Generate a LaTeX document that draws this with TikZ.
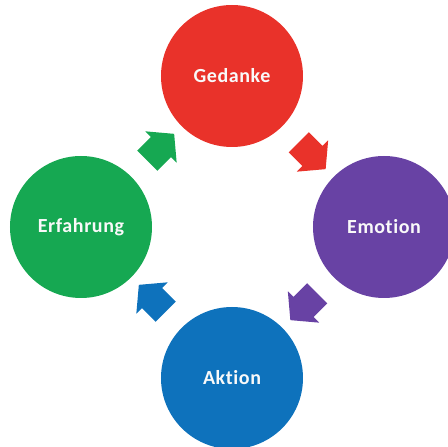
\documentclass[tikz,border=0pt]{standalone}
\usepackage{fontspec}
\setsansfont{Carlito}[Ligatures=NoCommon, LetterSpace=3]
\usetikzlibrary{positioning}
\usetikzlibrary{shapes.arrows}
\usetikzlibrary{calc}
\definecolor{gedankered}{RGB}{233,50,42}
\definecolor{emotionlila}{RGB}{104,66,164}
\definecolor{aktionblau}{RGB}{14,114,188}
\definecolor{erfahrunggruen}{RGB}{22,168,82}

\begin{document}
\begin{tikzpicture}[
  kreis/.style={circle, minimum size=142pt, inner sep=0pt, outer sep=0pt,
    text=white!95!gray, font=\sffamily\bfseries\fontsize{20}{22}\selectfont},
  pfeil/.style={single arrow, minimum height=38pt, minimum width=44pt,
    single arrow head extend=8pt, single arrow tip angle=100,
    inner xsep=0pt, inner ysep=14pt, outer sep=0pt}]
\useasboundingbox (-232pt,-220pt) rectangle (216pt,227pt);
\coordinate (mitte) at (0,0);
% circles
\node (gedanke) [kreis, fill=gedankered, above=80pt of mitte] {Gedanke};
\node (emotion) [kreis, fill=emotionlila, right=81pt of mitte] {Emotion};
\node (aktion) [kreis, fill=aktionblau, below=80pt of mitte] {Aktion};
\node (erfahrung) [kreis, fill=erfahrunggruen, left=80pt of mitte] {Erfahrung};
% block arrows
\node (p1) [pfeil, fill=gedankered, rotate=-45] at ($(gedanke)!.5!(emotion)$) {};
\node (p2) [pfeil, fill=emotionlila, rotate=-135] at ($(emotion)!.5!(aktion)$) {};
\node (p3) [pfeil, fill=aktionblau, rotate=135] at ($(aktion)!.5!(erfahrung)$) {};
\node (p4) [pfeil, fill=erfahrunggruen, rotate=45] at ($(erfahrung)!.5!(gedanke)$) {};
\end{tikzpicture}
\end{document}
